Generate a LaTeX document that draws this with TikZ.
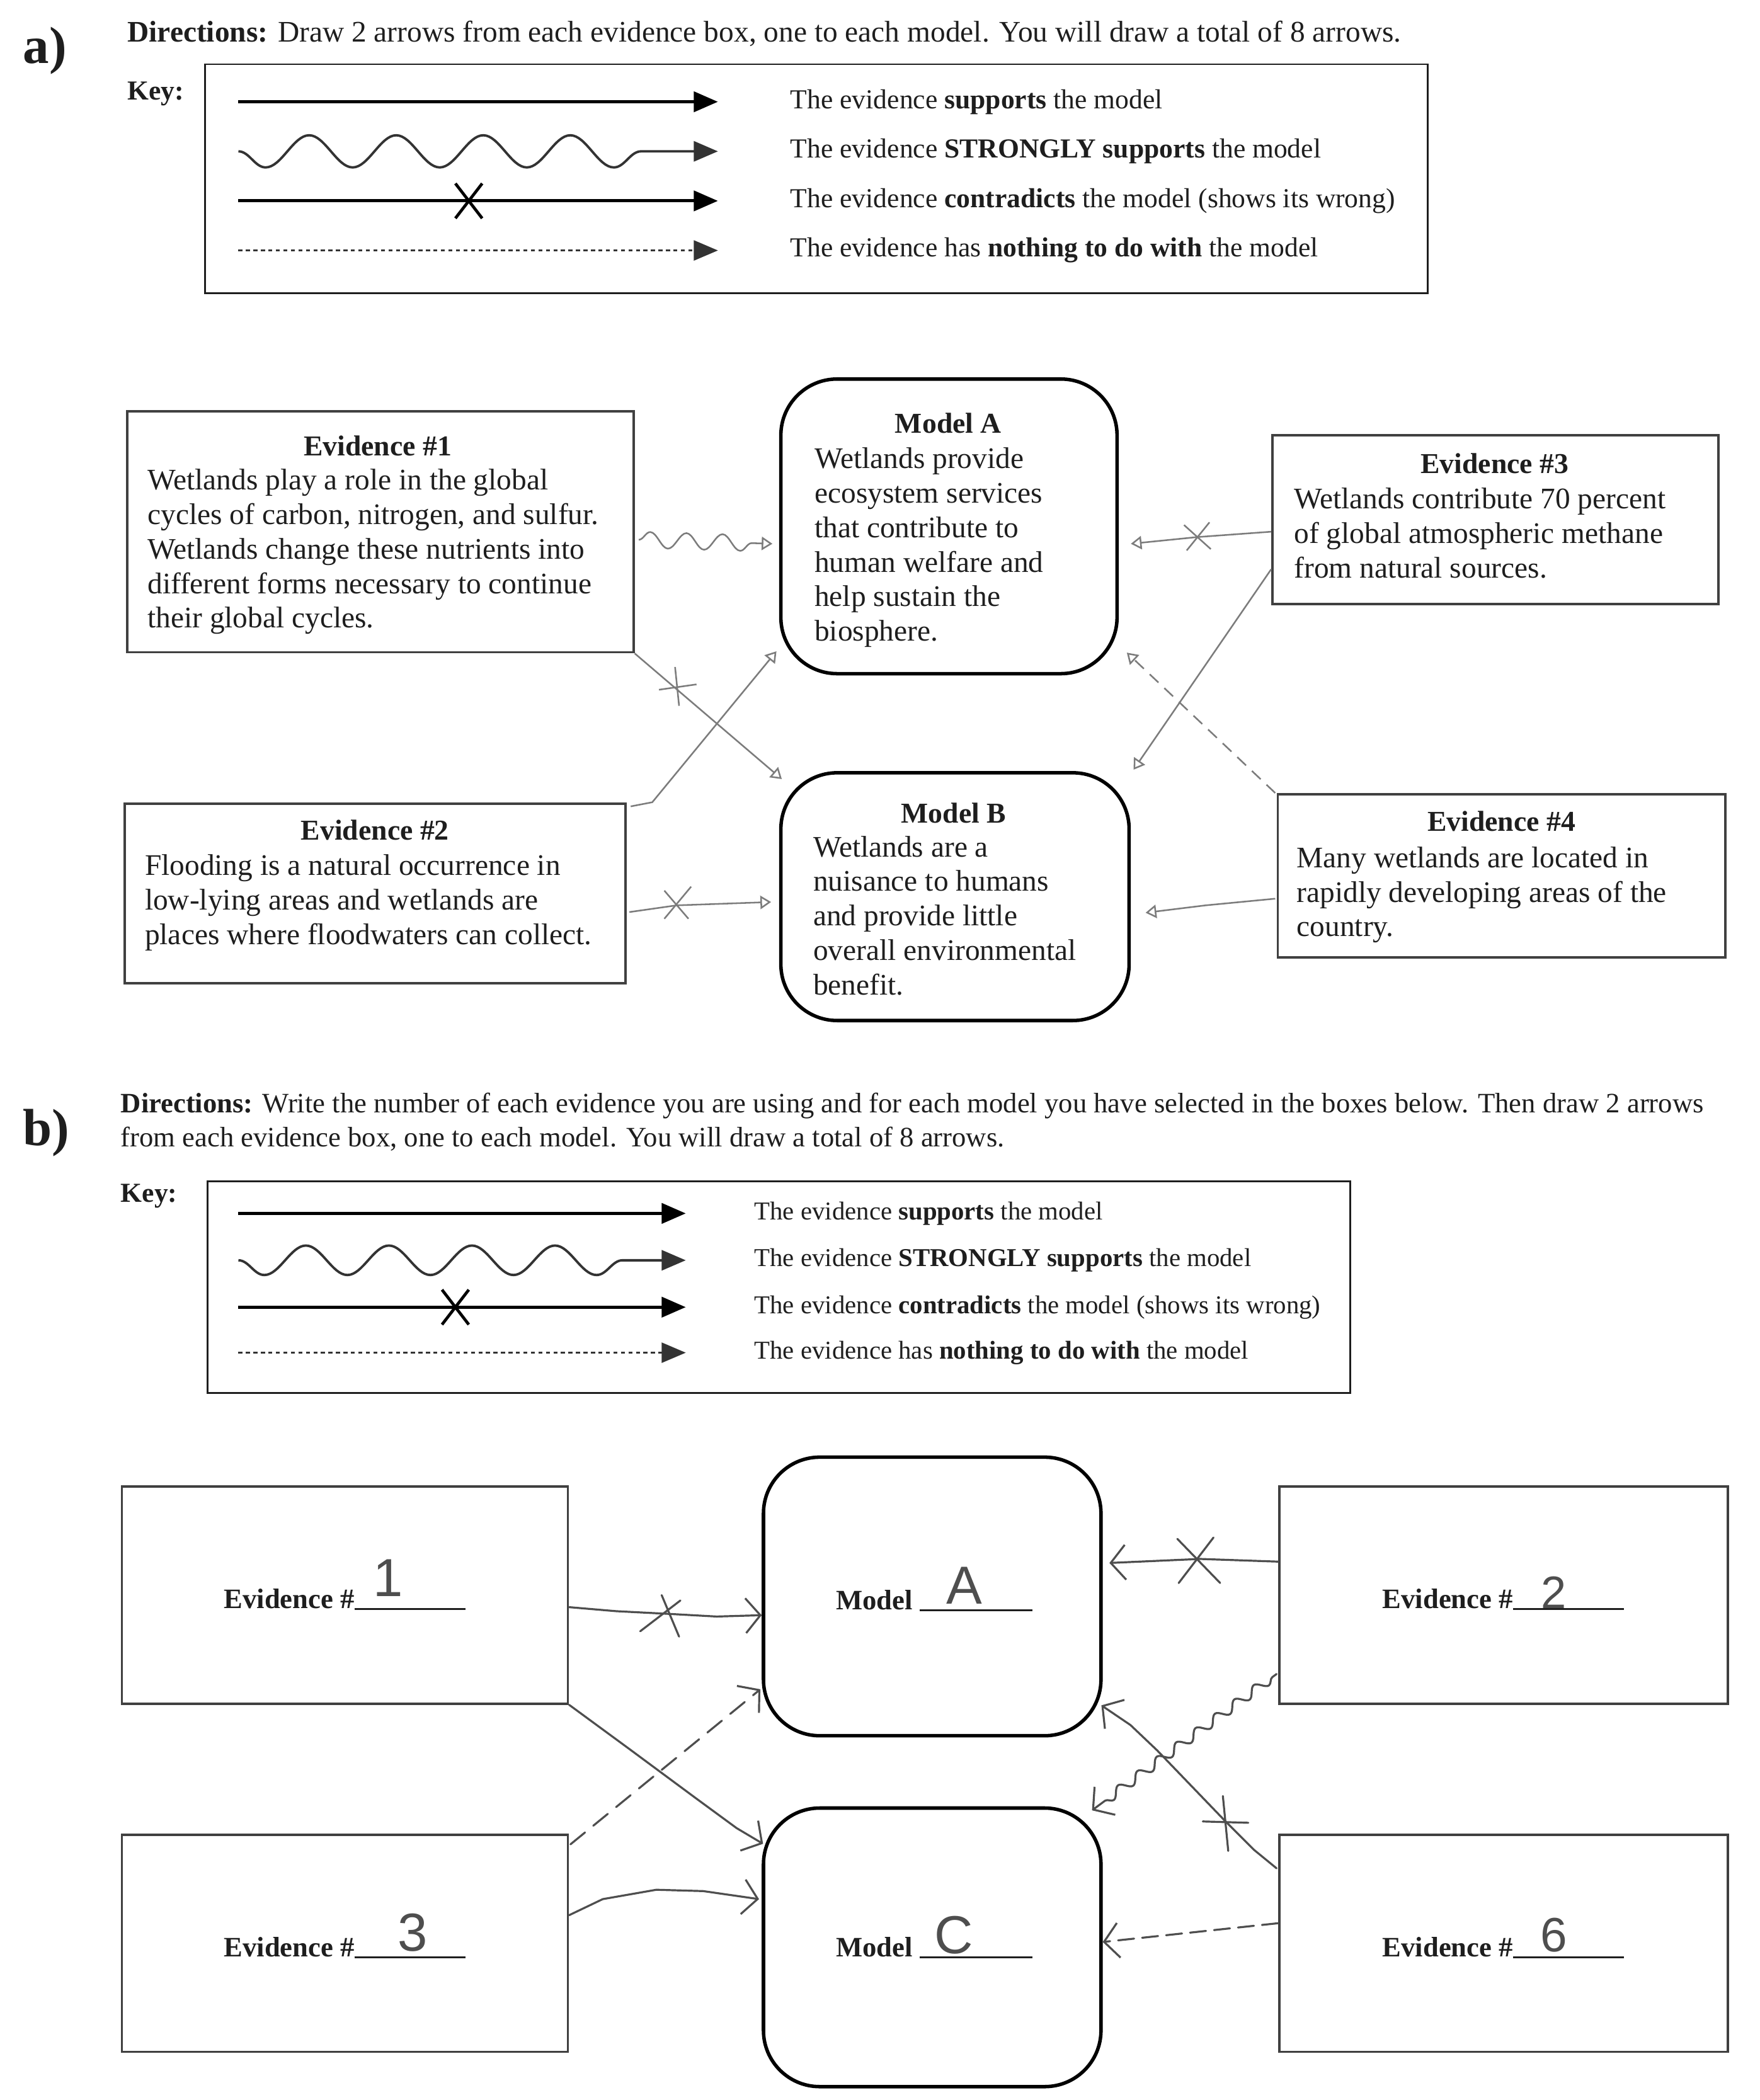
\documentclass[tikz,border=0pt]{standalone}
\usepackage{fontspec}
\setmainfont{Liberation Serif}
\newfontfamily\handfont{Liberation Sans}
\usetikzlibrary{arrows.meta,decorations.pathmorphing,calc}
\definecolor{ink}{HTML}{1E1E1E}
\definecolor{pencilA}{HTML}{7C7C7C}
\definecolor{pencilB}{HTML}{4E4E4E}
\begin{document}
\begin{tikzpicture}[x=1pt,y=-1pt,
  every node/.style={inner sep=0pt, text=ink},
  part/.style={font=\fontsize{39}{42}\selectfont\bfseries, anchor=west},
  dirtextA/.style={font=\fontsize{22.3}{25}\selectfont, anchor=west},
  dirtextB/.style={font=\fontsize{21}{25}\selectfont, anchor=north west, align=left},
  keylabel/.style={font=\fontsize{20.5}{24}\selectfont\bfseries, anchor=west},
  keytextA/.style={font=\fontsize{20.5}{24}\selectfont, anchor=west},
  keytextB/.style={font=\fontsize{19.2}{23}\selectfont, anchor=west},
  keybox/.style={draw=ink, line width=1.3pt},
  evbox/.style={draw=ink!85, line width=1.8pt},
  modbox/.style={draw=black, line width=2.6pt, rounded corners=42pt},
  ttl/.style={font=\fontsize{21.5}{25.8}\selectfont\bfseries},
  body/.style={font=\fontsize{22.3}{25.8}\selectfont, anchor=north west, align=left},
  blabel/.style={font=\fontsize{21}{24}\selectfont, anchor=base west},
  hand/.style={font=\handfont, text=pencilB},
  keyline/.style={draw=black, line width=2.4pt, -{Triangle[length=18pt,width=15pt]}},
  keywave/.style={draw=black!80, line width=1.8pt, -{Triangle[length=18pt,width=15pt]}, decorate},
  keydash/.style={draw=black!80, line width=1.3pt, dash pattern=on 3pt off 2.6pt, -{Triangle[length=18pt,width=15pt]}},
  keycross/.style={draw=black, line width=2.2pt},
  penA/.style={draw=pencilA, line width=1.2pt},
  tipA/.style={-{Triangle[open,length=8pt,width=10pt]}},
  penB/.style={draw=pencilB, line width=1.5pt, line join=round, line cap=round},
  tipB/.style={-{Straight Barb[length=11pt,width=26pt]}},
]
\useasboundingbox (0,0) rectangle (1314,1568);

% ================= part a =================
\node[part] (parta) at (17,38) {a)};
\node[dirtextA] (dira) at (95,25) {\textbf{Directions:} Draw 2 arrows from each evidence box, one to each model. You will draw a total of 8 arrows.};
\node[keylabel] (keya) at (95,70) {Key:};
\node[keybox, minimum width=913pt, minimum height=171pt] (kboxa) at (609.5,133.5) {};

\coordinate (ka1s) at (178,76);  \coordinate (ka1e) at (536,76);
\coordinate (ka2s) at (178,113); \coordinate (ka2e) at (536,113);
\coordinate (ka3s) at (178,150); \coordinate (ka3e) at (536,150);
\coordinate (ka4s) at (178,187); \coordinate (ka4e) at (536,187);
\coordinate (kax) at (350,150);
\draw[keyline] (ka1s) -- (ka1e);
\draw[keywave, decoration={snake, amplitude=-12pt, segment length=65pt, post length=30pt}] (ka2s) -- (ka2e);
\draw[keyline] (ka3s) -- (ka3e);
\draw[keycross] ($(kax)+(-10,-13)$) -- ($(kax)+(10,13)$);
\draw[keycross] ($(kax)+(10,-13)$) -- ($(kax)+(-10,13)$);
\draw[keydash] (ka4s) -- (ka4e);
\node[keytextA] (ta1) at (590,76) {The evidence \textbf{supports} the model};
\node[keytextA] (ta2) at (590,113) {The evidence \textbf{STRONGLY supports} the model};
\node[keytextA] (ta3) at (590,150) {The evidence \textbf{contradicts} the model (shows its wrong)};
\node[keytextA] (ta4) at (590,187) {The evidence has \textbf{nothing to do with} the model};

% boxes
\node[evbox, minimum width=378pt, minimum height=180pt] (e1) at (284,397) {};
\node[modbox, minimum width=251pt, minimum height=220pt] (ma) at (708.5,393) {};
\node[evbox, minimum width=333pt, minimum height=126pt] (e3) at (1116.5,388) {};
\node[evbox, minimum width=374pt, minimum height=134pt] (e2) at (280,667) {};
\node[modbox, minimum width=260pt, minimum height=185pt] (mb) at (713,669.5) {};
\node[evbox, minimum width=334pt, minimum height=122pt] (e4) at (1121,654) {};

\node[ttl] (e1t) at (282,333) {Evidence \#1};
\node[body] (e1b) at (110,350) {Wetlands play a role in the global\\cycles of carbon, nitrogen, and sulfur.\\Wetlands change these nutrients into\\different forms necessary to continue\\their global cycles.};
\node[ttl] (mat) at (708,316) {Model A};
\node[body] (mab) at (608,334) {Wetlands provide\\ecosystem services\\that contribute to\\human welfare and\\help sustain the\\biosphere.};
\node[ttl] (e3t) at (1116,346) {Evidence \#3};
\node[body] (e3b) at (966,364) {Wetlands contribute 70 percent\\of global atmospheric methane\\from natural sources.};
\node[ttl] (e2t) at (280,620) {Evidence \#2};
\node[body] (e2b) at (108,638) {Flooding is a natural occurrence in\\low-lying areas and wetlands are\\places where floodwaters can collect.};
\node[ttl] (mbt) at (712,607) {Model B};
\node[body] (mbb) at (607,624) {Wetlands are a\\nuisance to humans\\and provide little\\overall environmental\\benefit.};
\node[ttl] (e4t) at (1121,613) {Evidence \#4};
\node[body] (e4b) at (968,632) {Many wetlands are located in\\rapidly developing areas of the\\country.};

% hand-drawn arrows, part a
\draw[penA, tipA, decorate, decoration={snake, amplitude=6pt, segment length=27pt, post length=7pt}]
  ($(e1.east)+(3,6)$) -- ($(ma.west)+(-5,13)$);
\draw[penA, tipA] (e1.south east) -- ($(mb.north west)+(2,6)$);
\coordinate (xa1) at (506,513);
\draw[penA] ($(xa1)+(-14,2)$) -- ($(xa1)+(14,-2)$);
\draw[penA] ($(xa1)+(-2,-15)$) -- ($(xa1)+(1,14)$);
\draw[penA, tipA] ($(e2.north east)+(3,3)$) -- (487,599) -- ($(ma.south west)+(-2,-18)$);
\draw[penA, tipA] ($(e2.east)+(2,14)$) -- (505,676) -- ($(mb.west)+(-6,4)$);
\coordinate (xa2) at (505,676);
\draw[penA] ($(xa2)+(-9,-11)$) -- ($(xa2)+(9,10)$);
\draw[penA] ($(xa2)+(11,-14)$) -- ($(xa2)+(-9,10)$);
\draw[penA, tipA] ($(e3.west)+(0,9)$) -- (894,401) -- ($(ma.east)+(9,13)$);
\coordinate (xa3) at (894,401);
\draw[penA] ($(xa3)+(-10,-9)$) -- ($(xa3)+(10,9)$);
\draw[penA] ($(xa3)+(9,-11)$) -- ($(xa3)+(-8,10)$);
\draw[penA, tipA] ($(e3.west)+(0,37)$) -- ($(mb.north east)+(2,-1)$);
\draw[penA, tipA, dash pattern=on 9pt off 6pt] ($(e4.north west)+(-1,0)$) -- ($(ma.south east)+(6,-17)$);
\draw[penA, tipA] ($(e4.west)+(-1,17)$) -- (900,676) -- ($(mb.east)+(11,12)$);

% ================= part b =================
\node[part] (partb) at (17,846) {b)};
\node[dirtextB] (dirb) at (90,816) {\textbf{Directions:} Write the number of each evidence you are using and for each model you have selected in the boxes below. Then draw 2 arrows\\from each evidence box, one to each model. You will draw a total of 8 arrows.};
\node[keylabel] (keyb) at (90,893) {Key:};
\node[keybox, minimum width=853pt, minimum height=158pt] (kboxb) at (581.5,961) {};

\coordinate (kb1s) at (178,906);  \coordinate (kb1e) at (512,906);
\coordinate (kb2s) at (178,941);  \coordinate (kb2e) at (512,941);
\coordinate (kb3s) at (178,976);  \coordinate (kb3e) at (512,976);
\coordinate (kb4s) at (178,1010); \coordinate (kb4e) at (512,1010);
\coordinate (kbx) at (340,976);
\draw[keyline] (kb1s) -- (kb1e);
\draw[keywave, decoration={snake, amplitude=-11pt, segment length=62pt, post length=28pt}] (kb2s) -- (kb2e);
\draw[keyline] (kb3s) -- (kb3e);
\draw[keycross] ($(kbx)+(-10,-13)$) -- ($(kbx)+(10,13)$);
\draw[keycross] ($(kbx)+(10,-13)$) -- ($(kbx)+(-10,13)$);
\draw[keydash] (kb4s) -- (kb4e);
\node[keytextB] (tb1) at (563,906) {The evidence \textbf{supports} the model};
\node[keytextB] (tb2) at (563,941) {The evidence \textbf{STRONGLY supports} the model};
\node[keytextB] (tb3) at (563,976) {The evidence \textbf{contradicts} the model (shows its wrong)};
\node[keytextB] (tb4) at (563,1010) {The evidence has \textbf{nothing to do with} the model};

\node[evbox, minimum width=333pt, minimum height=162pt] (be1) at (257.5,1191) {};
\node[modbox, minimum width=252pt, minimum height=208pt] (bma) at (696,1192) {};
\node[evbox, minimum width=335pt, minimum height=162pt] (be2) at (1122.5,1191) {};
\node[evbox, minimum width=333pt, minimum height=162pt] (be3) at (257.5,1451) {};
\node[modbox, minimum width=252pt, minimum height=208pt] (bmc) at (696,1454) {};
\node[evbox, minimum width=335pt, minimum height=162pt] (be6) at (1122.5,1451) {};

\node[blabel] (be1l) at (167,1201) {\textbf{Evidence \#}\rule[-1pt]{83pt}{1.3pt}};
\node[blabel] (bmal) at (624,1202) {\textbf{Model} \rule[-1pt]{84pt}{1.3pt}};
\node[blabel] (be2l) at (1032,1201) {\textbf{Evidence \#}\rule[-1pt]{83pt}{1.3pt}};
\node[blabel] (be3l) at (167,1461) {\textbf{Evidence \#}\rule[-1pt]{83pt}{1.3pt}};
\node[blabel] (bmcl) at (624,1461) {\textbf{Model} \rule[-1pt]{84pt}{1.3pt}};
\node[blabel] (be6l) at (1032,1461) {\textbf{Evidence \#}\rule[-1pt]{83pt}{1.3pt}};

\node[hand, font=\handfont\fontsize{40}{40}\selectfont] (h1) at (290,1178) {1};
\node[hand, font=\handfont\fontsize{40}{40}\selectfont] (hA) at (720,1184) {A};
\node[hand, font=\handfont\fontsize{34}{34}\selectfont] (h2) at (1160,1189) {2};
\node[hand, font=\handfont\fontsize{40}{40}\selectfont] (h3) at (308,1443) {3};
\node[hand, font=\handfont\fontsize{40}{40}\selectfont] (hC) at (712,1445) {C};
\node[hand, font=\handfont\fontsize{36}{36}\selectfont] (h6) at (1160,1445) {6};

% hand-drawn arrows, part b
\draw[penB, tipB] ($(be1.east)+(0,9)$) -- (460,1203) -- (499,1205) -- (535,1207) -- ($(bma.west)+(0,14)$);
\coordinate (xb1) at (496,1206);
\draw[penB] ($(xb1)+(-18,12)$) -- ($(xb1)+(12,-11)$);
\draw[penB] ($(xb1)+(-2,-15)$) -- ($(xb1)+(11,16)$);
\draw[penB, tipB] (be1.south east) -- (470,1306) -- (520,1343) -- (550,1365) -- ($(bmc.north west)+(1,28)$);
\draw[penB, tipB, dash pattern=on 14pt off 8pt] ($(be3.north east)+(1,8)$) -- ($(bma.south west)+(-1,-36)$);
\draw[penB, tipB] ($(be3.east)+(0,-21)$) -- (450,1418) -- (490,1411) -- (525,1412) -- ($(bmc.west)+(-2,-36)$);
\draw[penB, tipB] ($(be2.west)+(0,-25)$) -- (896,1164) -- ($(bma.east)+(5,-25)$);
\coordinate (xb2) at (894,1165);
\draw[penB] ($(xb2)+(-15,-16)$) -- ($(xb2)+(17,17)$);
\draw[penB] ($(xb2)+(12,-17)$) -- ($(xb2)+(-14,17)$);
\draw[penB, tipB, decorate, decoration={snake, amplitude=3.5pt, segment length=18pt, pre length=4pt, post length=10pt}]
  ($(be2.south west)+(-1,-23)$) -- ($(bmc.north east)+(-8,3)$);
\draw[penB, tipB] ($(be6.west)+(-1,-56)$) -- (936,1381) -- (915,1360) -- (864,1307) -- (844,1288) -- ($(bma.south east)+(-1,-24)$);
\coordinate (xb3) at (915,1360);
\draw[penB] ($(xb3)+(-17,0)$) -- ($(xb3)+(17,1)$);
\draw[penB] ($(xb3)+(-2,-19)$) -- ($(xb3)+(2,22)$);
\draw[penB, tipB, dash pattern=on 12pt off 6pt] ($(be6.west)+(0,-15)$) -- ($(bmc.east)+(0,-4)$);

\end{tikzpicture}
\end{document}
